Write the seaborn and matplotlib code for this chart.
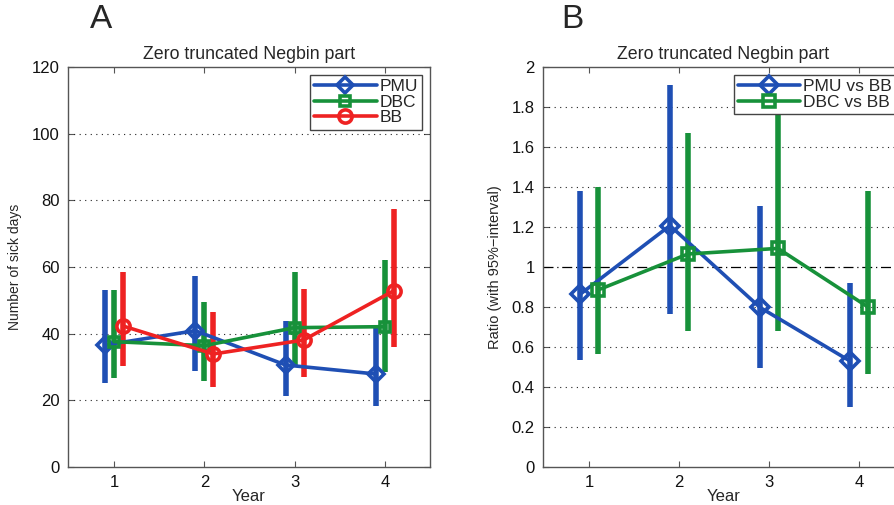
import numpy as np
import pandas as pd
import matplotlib
matplotlib.use("Agg")
import matplotlib.pyplot as plt
import seaborn as sns

years = [1, 2, 3, 4]

# Panel A: Number of sick days (estimate, lower, upper)
pmu_est = [36.6, 40.9, 30.6, 27.9]
pmu_lo = [25.1, 28.9, 21.4, 18.3]
pmu_hi = [53.1, 57.3, 43.8, 42.4]

dbc_est = [37.6, 36.4, 41.8, 42.1]
dbc_lo = [26.6, 25.8, 29.9, 28.6]
dbc_hi = [53.1, 49.6, 58.6, 62.1]

bb_est = [42.3, 33.9, 38.1, 52.9]
bb_lo = [30.3, 24.1, 27.1, 36.1]
bb_hi = [58.6, 46.5, 53.4, 77.4]

# Panel B: ratios vs BB
pmu_r_est = [0.863, 1.207, 0.798, 0.530]
pmu_r_lo = [0.535, 0.763, 0.493, 0.302]
pmu_r_hi = [1.380, 1.908, 1.305, 0.918]

dbc_r_est = [0.885, 1.065, 1.093, 0.800]
dbc_r_lo = [0.565, 0.682, 0.682, 0.463]
dbc_r_hi = [1.402, 1.672, 1.850, 1.380]

title_text = "Zero truncated Negbin part"
a_yticks = [0, 20, 40, 60, 80, 100, 120]
b_yticks = [0, 0.2, 0.4, 0.6, 0.8, 1, 1.2, 1.4, 1.6, 1.8, 2]
b_yticklabels = ["0", "0.2", "0.4", "0.6", "0.8", "1", "1.2", "1.4", "1.6", "1.8", "2"]

BLUE = "#1f4fb4"
GREEN = "#17913a"
RED = "#ee2222"

sns.set_theme(style="white")
plt.rcParams["font.family"] = ["Liberation Sans", "DejaVu Sans"]

fig = plt.figure(figsize=(8.95, 5.05), dpi=100)
axA = fig.add_axes([68 / 895, 38 / 505, (430 - 68) / 895, 400 / 505])
axB = fig.add_axes([543 / 895, 38 / 505, (904 - 543) / 895, 400 / 505])


def draw_series(ax, name, est, lo, hi, offset, color, marker, ms):
    xs = [y + offset for y in years]
    df = pd.DataFrame({"x": xs, "y": est, "series": name})
    ax.vlines(xs, lo, hi, colors=color, linewidth=4.0, zorder=2)
    sns.lineplot(data=df, x="x", y="y", ax=ax, color=color, linewidth=2.6,
                 marker=marker, markersize=ms, markerfacecolor="none",
                 markeredgecolor=color, markeredgewidth=2.6, label=name,
                 zorder=3, legend=True)


def style_axes(ax, gridticks, yticks, ylim):
    ax.set_xlim(0.49, 4.5)
    ax.set_ylim(*ylim)
    ax.set_xticks(years)
    ax.set_yticks(yticks)
    for y in gridticks:
        ax.axhline(y, color="#222222", linestyle=(0, (1, 4)), linewidth=0.8, zorder=1)
    for s in ax.spines.values():
        s.set_color("#555555")
        s.set_linewidth(1.0)
        s.set_visible(True)
    ax.tick_params(axis="both", direction="in", length=4, width=0.8, color="#555555",
                   labelsize=12, top=True, right=True, bottom=True, left=True,
                   pad=6, labelcolor="#111111")
    ax.set_xlabel("Year", fontsize=12, labelpad=-1)
    ax.set_title(title_text, fontsize=12.8, pad=6)


def make_legend(ax):
    leg = ax.legend(loc="upper right", fontsize=12.5, frameon=True, fancybox=False,
                    handlelength=3.6, borderpad=0.25, labelspacing=0.02,
                    handletextpad=0.15, borderaxespad=0.45)
    leg.get_frame().set_edgecolor("#444444")
    leg.get_frame().set_linewidth(1.0)
    leg.get_frame().set_alpha(1.0)
    leg.set_zorder(10)
    return leg


# Panel A
draw_series(axA, "PMU", pmu_est, pmu_lo, pmu_hi, -0.1, BLUE, "D", 8)
draw_series(axA, "DBC", dbc_est, dbc_lo, dbc_hi, 0.0, GREEN, "s", 7.5)
draw_series(axA, "BB", bb_est, bb_lo, bb_hi, 0.1, RED, "o", 9.5)
style_axes(axA, a_yticks[1:-1], a_yticks, (0, 120))
axA.set_ylabel("Number of sick days", fontsize=10, labelpad=7)
make_legend(axA)

# Panel B
axB.axhline(1, color="black", linestyle=(0, (8, 3, 1, 3)), linewidth=0.9, zorder=1)
draw_series(axB, "PMU vs BB", pmu_r_est, pmu_r_lo, pmu_r_hi, -0.1, BLUE, "D", 9)
draw_series(axB, "DBC vs BB", dbc_r_est, dbc_r_lo, dbc_r_hi, 0.1, GREEN, "s", 9)
style_axes(axB, [t for t in b_yticks[1:-1] if t != 1], b_yticks, (0, 2))
axB.set_yticklabels(b_yticklabels)
axB.set_ylabel("Ratio (with 95%\u2212interval)", fontsize=10.5, labelpad=7)
make_legend(axB)

fig.text(101 / 895, 1 - 20 / 505, "A", fontsize=24, ha="center", va="center")
fig.text(572 / 895, 1 - 19 / 505, "B", fontsize=24, ha="center", va="center")

fig.savefig("out.png", dpi=100)
